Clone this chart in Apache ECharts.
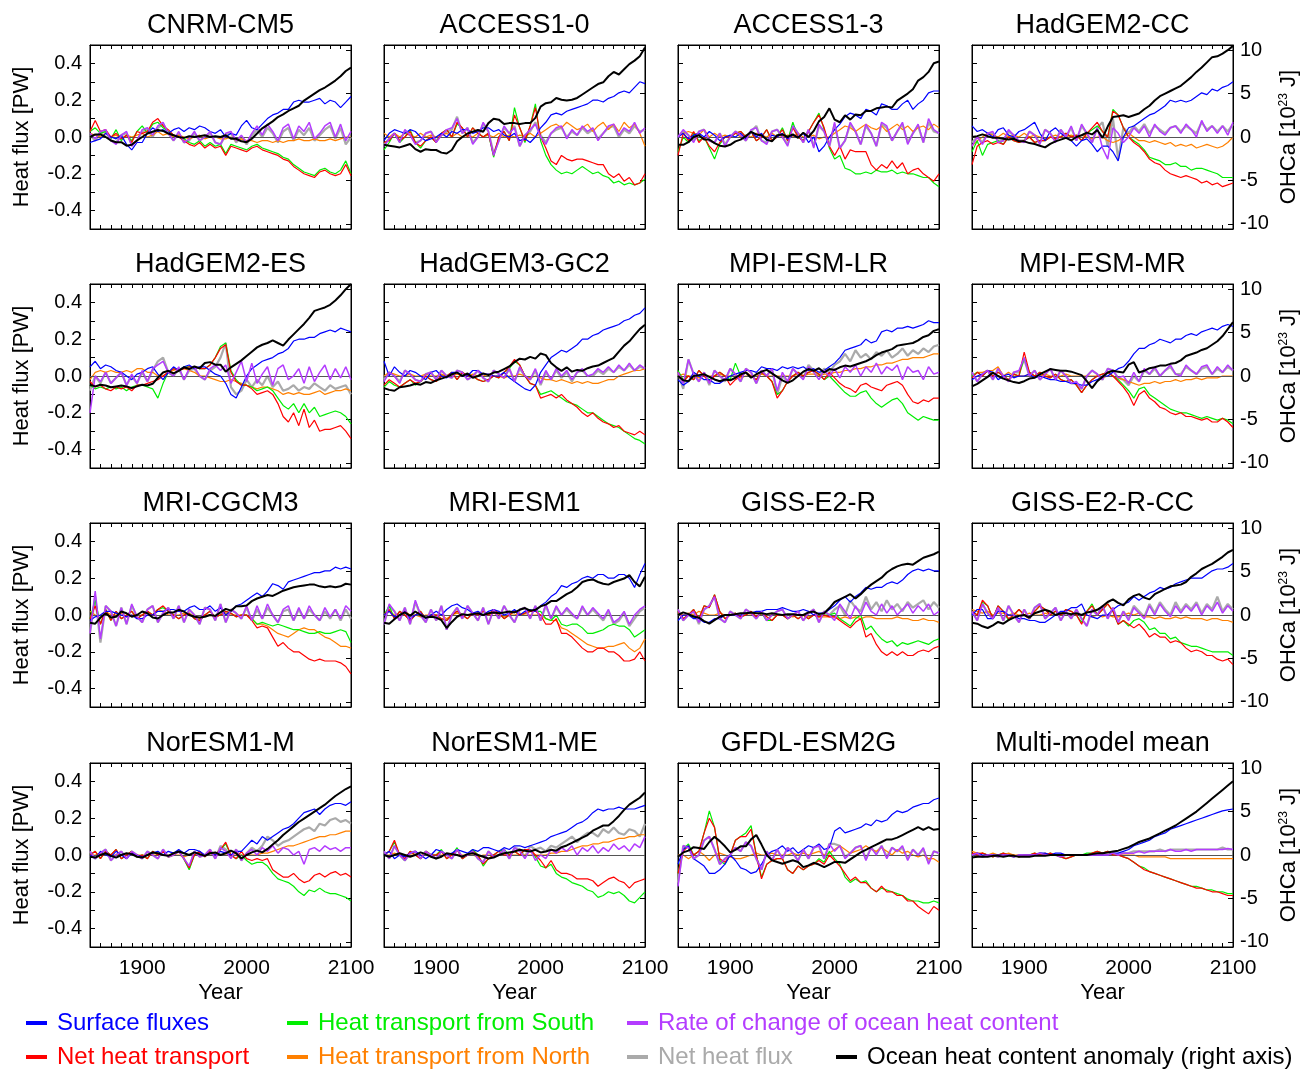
<!DOCTYPE html>
<html><head><meta charset="utf-8">
<script src="https://cdn.jsdelivr.net/npm/echarts@6/dist/echarts.min.js"></script>
<style>html,body{margin:0;padding:0;background:#fff}#c{width:1305px;height:1069px}</style>
</head><body><div id="c"></div>
<script>
const years = [1850,1855,1860,1865,1870,1875,1880,1885,1890,1895,1900,1905,1910,1915,1920,1925,1930,1935,1940,1945,1950,1955,1960,1965,1970,1975,1980,1985,1990,1995,2000,2005,2010,2015,2020,2025,2030,2035,2040,2045,2050,2055,2060,2065,2070,2075,2080,2085,2090,2095,2100];
const models = ['CNRM-CM5','ACCESS1-0','ACCESS1-3','HadGEM2-CC','HadGEM2-ES','HadGEM3-GC2','MPI-ESM-LR','MPI-ESM-MR','MRI-CGCM3','MRI-ESM1','GISS-E2-R','GISS-E2-R-CC','NorESM1-M','NorESM1-ME','GFDL-ESM2G','Multi-model mean'];

// Surface fluxes [PW]
const surfaceFluxes = [
[-0.03,-0.02,-0.01,0.02,0.0,-0.01,0.01,-0.04,-0.07,-0.03, -0.03,0.02,0.05,0.03,0.04,0.02,0.04,0.05,0.03,0.05, 0.04,0.06,0.05,0.03,0.02,0.04,0.0,0.02,0.01,0.06, 0.09,0.05,0.04,0.07,0.1,0.12,0.13,0.15,0.15,0.19, 0.2,0.19,0.19,0.2,0.21,0.18,0.2,0.19,0.16,0.19,0.22],
[-0.02,0.02,0.04,0.03,0.02,0.04,0.03,0.0,-0.02,-0.01, 0.0,0.02,0.0,0.03,0.02,0.04,0.04,0.02,0.03,0.05, 0.05,0.03,0.04,0.01,0.0,0.02,-0.02,-0.01,-0.03,0.0, 0.05,0.08,0.12,0.13,0.12,0.14,0.15,0.16,0.17,0.18, 0.2,0.2,0.19,0.21,0.22,0.24,0.25,0.24,0.27,0.3,0.29],
[0.0,0.02,-0.01,0.01,0.02,0.0,0.03,0.01,-0.02,0.0, 0.01,0.0,0.02,-0.01,0.03,0.0,0.02,-0.02,0.01,0.0, 0.02,-0.01,0.01,0.0,0.02,-0.03,0.0,-0.08,-0.05,0.0, 0.04,0.07,0.11,0.13,0.12,0.1,0.15,0.14,0.12,0.18, 0.17,0.15,0.15,0.18,0.2,0.15,0.18,0.2,0.24,0.25,0.25],
[0.06,0.03,0.04,0.02,0.0,0.04,0.05,0.01,0.0,0.03, 0.04,0.06,0.08,0.02,-0.02,0.03,0.05,0.02,0.0,-0.02, -0.05,-0.02,-0.01,-0.04,-0.08,-0.05,-0.05,-0.08,-0.13,0.0, 0.05,0.06,0.08,0.1,0.12,0.13,0.15,0.17,0.2,0.19, 0.2,0.19,0.2,0.22,0.24,0.23,0.26,0.25,0.27,0.28,0.3],
[0.05,0.08,0.04,0.06,0.05,0.03,0.02,0.0,-0.02,0.01, 0.02,0.04,0.05,0.01,-0.02,0.02,0.05,0.03,0.05,0.06, 0.04,0.05,0.05,0.03,0.01,0.0,-0.04,-0.1,-0.12,-0.06, 0.0,0.04,0.06,0.08,0.09,0.1,0.12,0.13,0.15,0.19, 0.2,0.2,0.21,0.21,0.23,0.24,0.25,0.24,0.26,0.25,0.24],
[0.08,0.0,0.05,0.02,0.0,0.03,0.02,0.0,-0.02,0.02, 0.03,0.0,-0.01,0.02,0.02,0.0,0.0,0.03,0.03,0.01, 0.01,0.0,0.0,0.02,-0.01,-0.03,-0.05,-0.07,-0.08,-0.05, 0.02,0.06,0.1,0.12,0.14,0.13,0.15,0.17,0.2,0.2, 0.22,0.23,0.25,0.26,0.27,0.28,0.3,0.31,0.33,0.34,0.37],
[-0.02,-0.05,-0.03,0.02,0.0,-0.02,-0.02,-0.04,-0.04,-0.02, 0.0,0.01,0.02,0.03,0.03,0.02,0.05,0.04,0.04,0.03, 0.05,0.04,0.05,0.04,0.05,0.03,0.04,0.02,0.03,0.05, 0.07,0.1,0.14,0.15,0.16,0.17,0.2,0.18,0.19,0.24, 0.25,0.24,0.26,0.26,0.27,0.26,0.27,0.28,0.3,0.29,0.29],
[-0.02,0.0,0.01,0.03,0.02,-0.02,0.0,0.01,-0.01,0.0, 0.0,0.01,-0.01,0.0,-0.01,-0.02,-0.02,-0.03,-0.03,-0.04, -0.04,-0.05,-0.05,-0.03,-0.02,0.0,0.0,0.02,0.04,0.05, 0.08,0.12,0.15,0.15,0.17,0.18,0.2,0.19,0.18,0.2, 0.2,0.22,0.23,0.22,0.24,0.25,0.26,0.25,0.27,0.28,0.27],
[-0.03,-0.01,0.0,0.02,0.02,0.01,0.0,-0.01,0.0,-0.02, -0.02,0.0,0.0,0.02,0.02,0.03,0.03,0.02,0.02,0.04, 0.05,0.03,0.03,0.05,0.02,0.04,0.0,0.02,0.05,0.06, 0.08,0.1,0.12,0.1,0.13,0.17,0.16,0.14,0.18,0.19, 0.2,0.21,0.22,0.23,0.23,0.24,0.24,0.26,0.25,0.26,0.25],
[0.0,0.02,-0.01,0.0,0.02,-0.02,0.0,0.01,-0.02,0.0, 0.02,0.0,0.03,0.05,0.06,0.04,0.03,0.01,0.02,0.0, 0.02,0.03,0.02,0.0,0.01,0.03,0.0,0.02,0.03,0.02, 0.05,0.07,0.1,0.12,0.16,0.15,0.17,0.18,0.2,0.21, 0.2,0.22,0.22,0.2,0.2,0.22,0.22,0.2,0.15,0.22,0.28],
[-0.03,0.0,0.0,-0.02,-0.02,-0.04,-0.04,-0.02,-0.02,0.0, 0.0,0.0,0.0,0.01,0.01,0.02,0.02,0.03,0.03,0.03, 0.04,0.03,0.02,0.02,0.03,0.02,0.0,0.01,0.01,0.03, 0.05,0.08,0.1,0.07,0.1,0.12,0.15,0.14,0.15,0.15, 0.17,0.18,0.17,0.19,0.22,0.24,0.25,0.24,0.25,0.24,0.24],
[0.0,0.03,0.03,-0.02,-0.02,0.02,0.02,0.0,0.0,-0.02, -0.02,-0.03,-0.03,-0.04,-0.04,-0.02,0.0,0.02,0.02,0.04, 0.04,0.06,0.0,-0.01,-0.02,0.0,0.0,0.03,0.05,0.06, 0.07,0.1,0.08,0.1,0.12,0.13,0.15,0.14,0.15,0.17, 0.18,0.19,0.2,0.2,0.2,0.22,0.24,0.25,0.25,0.26,0.28],
[0.0,-0.02,0.02,0.0,-0.01,0.02,0.0,-0.02,0.01,0.0, -0.01,0.0,0.01,0.02,0.0,0.02,0.01,0.03,0.01,0.03, 0.03,0.02,0.0,0.01,0.0,0.02,0.01,0.0,0.02,0.02, 0.05,0.08,0.06,0.1,0.08,0.1,0.12,0.14,0.15,0.17, 0.2,0.23,0.24,0.25,0.22,0.25,0.27,0.28,0.28,0.27,0.29],
[0.0,0.02,-0.02,0.0,-0.01,0.01,0.02,0.0,-0.02,0.0, 0.03,0.02,0.0,0.01,0.03,0.02,0.01,0.03,0.02,0.04, 0.04,0.03,0.02,0.04,0.03,0.05,0.05,0.04,0.05,0.06, 0.07,0.08,0.1,0.11,0.12,0.13,0.15,0.17,0.18,0.2, 0.23,0.25,0.24,0.25,0.25,0.26,0.25,0.25,0.25,0.26,0.27],
[-0.05,0.03,0.05,-0.02,-0.04,-0.06,-0.1,-0.1,-0.08,-0.05, 0.0,-0.03,-0.07,-0.08,-0.1,-0.09,-0.05,0.0,0.02,0.03, 0.05,0.02,0.04,0.01,0.03,0.05,0.04,0.06,0.03,0.04, 0.13,0.15,0.12,0.13,0.14,0.15,0.17,0.16,0.19,0.18, 0.19,0.22,0.24,0.23,0.24,0.26,0.27,0.28,0.28,0.3,0.31],
[0.0,0.01,0.0,0.0,0.0,0.0,0.0,0.0,-0.01,0.0, 0.0,0.0,0.0,0.01,0.01,0.0,0.01,0.01,0.0,0.0, 0.0,0.0,0.0,0.0,0.0,0.0,0.0,0.01,0.01,0.02, 0.03,0.05,0.06,0.07,0.08,0.1,0.11,0.12,0.14,0.15, 0.16,0.17,0.18,0.19,0.2,0.21,0.22,0.23,0.24,0.245,0.25]
];

// Net heat transport [PW]
const netTransport = [
[0.03,0.09,0.03,0.04,0.0,0.02,-0.01,0.01,-0.03,0.03, 0.02,0.03,0.08,0.1,0.06,0.04,0.01,0.0,-0.02,-0.04, -0.05,-0.03,-0.06,-0.04,-0.06,-0.05,-0.1,-0.05,-0.06,-0.07, -0.08,-0.06,-0.05,-0.07,-0.08,-0.09,-0.1,-0.12,-0.13,-0.16, -0.18,-0.2,-0.21,-0.22,-0.19,-0.18,-0.2,-0.21,-0.2,-0.15,-0.21],
[-0.03,-0.02,0.02,-0.02,0.0,0.03,-0.03,-0.05,-0.02,0.0, -0.03,0.02,0.04,0.0,0.08,0.05,0.0,0.05,0.02,0.0, 0.02,-0.1,0.0,0.03,-0.02,0.12,0.05,-0.02,0.06,0.16, 0.0,-0.06,-0.13,-0.15,-0.1,-0.12,-0.13,-0.12,-0.12,-0.13, -0.14,-0.15,-0.15,-0.2,-0.22,-0.2,-0.24,-0.22,-0.26,-0.25,-0.2],
[-0.1,0.02,-0.02,0.03,-0.03,0.0,-0.05,-0.08,-0.03,0.0, 0.0,0.02,0.03,0.0,0.03,-0.02,0.0,0.04,-0.02,0.0, 0.04,-0.02,0.05,0.0,-0.02,0.03,0.08,0.12,0.05,-0.05, -0.1,-0.05,-0.12,-0.07,-0.08,-0.08,-0.08,-0.15,-0.18,-0.15, -0.17,-0.13,-0.17,-0.14,-0.2,-0.18,-0.17,-0.2,-0.22,-0.24,-0.2],
[-0.15,-0.05,-0.03,-0.02,-0.04,-0.03,-0.04,0.0,-0.02,-0.03, -0.02,0.0,-0.03,-0.02,-0.02,0.0,-0.01,0.0,0.02,0.0, 0.01,-0.02,0.02,0.05,0.08,0.03,0.0,0.14,0.12,0.05, 0.0,-0.03,-0.05,-0.08,-0.12,-0.14,-0.15,-0.18,-0.2,-0.21, -0.22,-0.21,-0.22,-0.23,-0.25,-0.24,-0.26,-0.25,-0.27,-0.26,-0.25],
[-0.03,-0.06,-0.05,-0.07,-0.08,-0.06,-0.07,-0.06,-0.08,-0.05, -0.05,-0.04,-0.03,-0.02,0.0,0.02,0.04,0.03,0.04,0.05, 0.05,0.04,0.04,0.06,0.1,0.15,0.17,0.02,-0.03,-0.05, -0.05,-0.07,-0.1,-0.09,-0.08,-0.1,-0.15,-0.22,-0.25,-0.2, -0.27,-0.18,-0.28,-0.24,-0.3,-0.29,-0.29,-0.28,-0.27,-0.3,-0.34],
[-0.05,-0.02,-0.04,-0.06,-0.04,-0.02,-0.04,-0.03,0.0,-0.02, -0.03,0.0,0.0,0.02,-0.02,0.02,0.0,0.0,-0.02,-0.03, -0.02,0.0,-0.01,0.02,0.05,0.09,0.06,0.0,-0.04,-0.05, -0.12,-0.11,-0.1,-0.12,-0.1,-0.13,-0.15,-0.17,-0.2,-0.22, -0.2,-0.23,-0.25,-0.26,-0.28,-0.27,-0.3,-0.31,-0.32,-0.3,-0.32],
[0.02,-0.03,0.0,-0.02,0.03,0.0,-0.03,0.0,0.02,0.0, -0.05,-0.02,0.0,0.02,0.0,-0.02,0.02,0.0,-0.03,-0.12, -0.08,-0.03,0.0,0.02,0.0,0.02,0.03,0.01,-0.02,0.02, -0.01,-0.04,-0.06,-0.07,-0.09,-0.05,-0.04,-0.06,-0.07,-0.08, -0.05,-0.04,-0.03,-0.05,-0.1,-0.14,-0.15,-0.13,-0.14,-0.12,-0.12],
[-0.01,0.02,0.0,0.03,0.0,0.02,0.0,-0.02,0.01,0.0, 0.13,0.02,0.0,0.02,0.0,-0.01,0.01,-0.02,-0.03,-0.02, -0.05,-0.09,-0.05,-0.02,0.0,0.01,0.02,0.0,-0.03,-0.06, -0.1,-0.16,-0.1,-0.08,-0.12,-0.14,-0.17,-0.18,-0.2,-0.21, -0.2,-0.22,-0.22,-0.23,-0.24,-0.23,-0.25,-0.25,-0.23,-0.25,-0.28],
[-0.02,0.05,-0.05,0.03,-0.03,0.02,-0.02,0.0,0.02,-0.02, 0.0,0.02,0.0,0.03,0.05,0.02,0.0,-0.02,0.0,0.01, -0.02,-0.03,0.0,0.02,-0.01,0.0,0.02,0.01,-0.01,0.0, 0.0,-0.03,-0.07,-0.06,-0.07,-0.12,-0.17,-0.15,-0.18,-0.2, -0.2,-0.22,-0.24,-0.25,-0.24,-0.25,-0.25,-0.25,-0.26,-0.28,-0.32],
[0.0,0.03,-0.02,0.02,0.0,-0.03,0.0,0.02,-0.02,0.0, 0.0,-0.02,-0.03,0.0,0.02,0.0,-0.02,0.01,0.0,0.02, 0.0,0.03,0.01,-0.02,0.0,0.02,0.0,0.01,0.02,0.02, 0.0,-0.05,-0.05,-0.02,-0.1,-0.1,-0.12,-0.15,-0.18,-0.2, -0.2,-0.18,-0.18,-0.2,-0.2,-0.22,-0.25,-0.25,-0.24,-0.2,-0.25],
[0.02,-0.02,0.0,0.03,-0.02,0.05,0.04,0.11,0.02,-0.02, 0.0,0.01,-0.01,0.0,0.02,-0.01,0.01,-0.01,-0.03,0.0, 0.0,-0.02,0.0,-0.02,0.0,-0.02,0.0,-0.01,0.0,-0.01, -0.01,-0.03,-0.05,-0.07,-0.04,-0.02,-0.12,-0.1,-0.16,-0.2, -0.22,-0.2,-0.22,-0.2,-0.22,-0.22,-0.2,-0.19,-0.2,-0.18,-0.17],
[0.02,0.0,0.08,0.05,-0.02,0.05,0.02,-0.02,0.0,0.03, 0.0,-0.02,0.02,0.05,0.03,0.0,0.02,0.0,0.03,0.02, 0.0,-0.05,0.02,0.05,0.0,0.03,0.06,0.02,-0.05,-0.03, -0.05,-0.07,-0.05,-0.08,-0.12,-0.1,-0.12,-0.12,-0.15,-0.14, -0.15,-0.18,-0.2,-0.19,-0.2,-0.22,-0.22,-0.24,-0.25,-0.24,-0.27],
[0.0,0.02,-0.02,0.02,0.0,0.03,-0.02,0.0,0.02,-0.01, 0.0,-0.02,0.02,0.0,0.02,-0.01,0.0,0.02,-0.02,-0.07, 0.0,0.02,-0.01,0.02,0.0,0.03,0.07,0.0,-0.02,0.02, -0.02,-0.03,-0.02,-0.03,-0.02,-0.08,-0.1,-0.12,-0.12,-0.1, -0.13,-0.15,-0.14,-0.11,-0.1,-0.12,-0.1,-0.09,-0.11,-0.1,-0.12],
[0.0,0.02,0.08,0.0,-0.02,0.02,0.0,-0.02,0.02,0.0, 0.0,0.02,-0.02,0.0,0.03,-0.02,0.0,0.02,0.0,-0.05, -0.02,0.0,0.02,0.0,0.0,0.02,0.0,0.03,0.03,0.0, -0.03,-0.07,-0.03,-0.08,-0.1,-0.1,-0.11,-0.13,-0.13,-0.13, -0.14,-0.17,-0.15,-0.13,-0.12,-0.14,-0.15,-0.18,-0.15,-0.14,-0.13],
[-0.1,0.02,0.05,0.0,0.02,0.12,0.2,0.15,-0.02,-0.04, 0.0,0.08,0.1,0.1,0.14,0.0,-0.13,-0.05,-0.03,-0.02, -0.02,-0.08,-0.1,-0.06,-0.08,-0.06,-0.05,-0.03,-0.05,0.0, -0.03,-0.06,-0.1,-0.14,-0.12,-0.15,-0.15,-0.18,-0.2,-0.17, -0.2,-0.2,-0.22,-0.22,-0.25,-0.25,-0.28,-0.3,-0.32,-0.28,-0.3],
[0.01,0.0,0.01,0.0,-0.01,0.0,0.01,0.0,0.0,-0.01, 0.0,0.0,0.01,0.0,0.0,0.01,0.0,-0.01,-0.02,-0.01, 0.0,0.0,0.0,0.01,0.02,0.01,0.02,0.0,0.0,-0.01, -0.02,-0.04,-0.06,-0.08,-0.09,-0.1,-0.11,-0.12,-0.13,-0.14, -0.15,-0.16,-0.17,-0.18,-0.18,-0.19,-0.2,-0.2,-0.21,-0.22,-0.22]
];

// Heat transport from South [PW]
const fromSouth = [
[0.03,0.05,0.02,0.03,-0.01,0.04,-0.02,0.01,-0.02,0.03, 0.06,0.02,0.07,0.08,0.05,0.03,0.01,0.0,-0.01,-0.03, -0.04,-0.02,-0.05,-0.03,-0.05,-0.04,-0.09,-0.04,-0.05,-0.06, -0.07,-0.05,-0.04,-0.06,-0.07,-0.08,-0.09,-0.11,-0.12,-0.15, -0.17,-0.19,-0.2,-0.21,-0.18,-0.17,-0.19,-0.2,-0.18,-0.13,-0.2],
[-0.07,-0.03,0.02,-0.03,0.0,0.04,-0.03,-0.06,-0.02,0.0, -0.03,0.02,0.04,0.0,0.07,0.05,0.0,0.05,0.02,0.0, 0.02,-0.11,0.0,0.03,-0.02,0.16,0.05,-0.03,0.06,0.18, -0.02,-0.1,-0.15,-0.18,-0.2,-0.19,-0.2,-0.18,-0.16,-0.18, -0.2,-0.19,-0.21,-0.22,-0.25,-0.24,-0.26,-0.25,-0.26,-0.25,-0.23],
[-0.08,0.0,-0.03,0.02,-0.02,0.0,-0.06,-0.12,-0.04,0.0, 0.0,0.02,0.03,0.0,0.03,-0.02,0.0,0.04,-0.02,0.0, 0.05,-0.02,0.08,0.0,-0.02,0.03,0.08,0.13,0.04,-0.06, -0.12,-0.1,-0.17,-0.18,-0.2,-0.2,-0.19,-0.2,-0.18,-0.19, -0.19,-0.18,-0.2,-0.19,-0.2,-0.2,-0.21,-0.22,-0.22,-0.25,-0.27],
[-0.08,-0.02,-0.1,-0.04,-0.03,-0.02,-0.04,0.0,-0.02,-0.03, -0.02,0.0,-0.03,-0.02,-0.02,0.0,-0.01,0.0,0.02,0.0, 0.01,-0.02,0.02,0.04,0.06,0.03,0.0,0.15,0.12,0.05, 0.0,-0.02,-0.04,-0.07,-0.11,-0.12,-0.13,-0.15,-0.15,-0.14, -0.16,-0.16,-0.18,-0.17,-0.17,-0.18,-0.19,-0.2,-0.22,-0.22,-0.22],
[-0.05,-0.07,-0.06,-0.07,-0.06,-0.07,-0.06,-0.08,-0.06,-0.05, -0.05,-0.06,-0.07,-0.12,-0.04,0.02,0.04,0.03,0.05,0.05, 0.05,0.04,0.04,0.06,0.1,0.16,0.18,0.03,-0.02,-0.05, -0.05,-0.06,-0.08,-0.07,-0.06,-0.08,-0.12,-0.16,-0.18,-0.15, -0.2,-0.15,-0.2,-0.17,-0.22,-0.21,-0.2,-0.19,-0.2,-0.22,-0.26],
[-0.06,-0.03,-0.05,-0.06,-0.04,-0.02,-0.05,-0.03,0.0,-0.02, -0.03,0.0,0.0,0.02,-0.02,0.02,0.0,0.0,-0.02,-0.03, -0.02,0.0,-0.01,0.02,0.04,0.08,0.06,0.0,-0.04,-0.05, -0.1,-0.09,-0.08,-0.1,-0.12,-0.14,-0.15,-0.16,-0.18,-0.2, -0.2,-0.22,-0.24,-0.26,-0.27,-0.28,-0.3,-0.32,-0.34,-0.35,-0.37],
[0.03,-0.02,0.0,-0.02,0.03,0.0,-0.02,0.0,0.02,0.0, -0.02,0.07,0.0,0.02,0.0,-0.02,0.02,0.0,-0.03,-0.1, -0.08,-0.03,0.0,0.02,0.0,0.02,0.03,0.01,-0.02,0.0, -0.03,-0.06,-0.09,-0.11,-0.11,-0.09,-0.08,-0.12,-0.15,-0.17, -0.15,-0.13,-0.12,-0.15,-0.2,-0.22,-0.24,-0.22,-0.23,-0.24,-0.24],
[0.0,0.02,0.0,0.03,0.0,0.02,0.0,-0.02,0.01,0.0, 0.1,0.02,0.0,0.02,0.0,-0.01,0.01,-0.02,-0.03,-0.02, -0.05,-0.09,-0.05,-0.02,0.0,0.01,0.02,0.0,-0.02,-0.05, -0.08,-0.12,-0.07,-0.06,-0.1,-0.12,-0.14,-0.16,-0.18,-0.19, -0.2,-0.2,-0.21,-0.22,-0.23,-0.22,-0.23,-0.24,-0.23,-0.24,-0.26],
[-0.02,0.08,-0.05,0.03,-0.03,0.02,-0.02,0.0,0.02,-0.02, 0.0,0.02,0.0,0.03,0.04,0.02,0.0,-0.02,0.0,0.01, -0.02,-0.03,0.0,0.02,-0.01,0.0,0.02,0.01,-0.01,0.0, 0.0,-0.02,-0.05,-0.04,-0.05,-0.06,-0.05,-0.06,-0.07,-0.08, -0.08,-0.09,-0.1,-0.1,-0.09,-0.1,-0.1,-0.09,-0.08,-0.09,-0.15],
[0.0,0.05,-0.02,0.02,0.0,-0.03,0.0,0.02,-0.02,0.0, 0.0,-0.02,-0.03,0.0,0.02,0.0,-0.02,0.01,0.0,0.02, 0.0,0.03,0.01,-0.02,0.0,0.02,0.0,0.01,0.02,0.02, 0.02,-0.02,-0.03,0.0,-0.05,-0.06,-0.05,-0.05,-0.07,-0.1, -0.1,-0.09,-0.08,-0.06,-0.05,-0.06,-0.06,-0.08,-0.12,-0.1,-0.08],
[0.02,-0.02,0.0,0.03,-0.02,0.05,0.04,0.11,0.02,-0.02, 0.0,0.01,-0.01,0.0,0.02,-0.01,0.01,-0.03,-0.03,0.0, 0.0,-0.02,0.0,-0.02,0.0,-0.02,0.0,-0.01,0.0,0.0, 0.01,-0.02,-0.04,-0.06,-0.02,0.0,-0.08,-0.06,-0.1,-0.13, -0.15,-0.14,-0.17,-0.15,-0.16,-0.15,-0.14,-0.15,-0.16,-0.14,-0.13],
[0.02,0.0,0.07,0.05,-0.02,0.05,0.02,-0.03,0.0,0.03, 0.0,-0.02,0.02,0.05,0.03,0.0,0.02,0.0,0.03,0.02, 0.0,-0.04,0.02,0.06,0.0,0.03,0.06,0.02,-0.05,-0.03, -0.06,-0.03,-0.02,-0.04,-0.08,-0.07,-0.1,-0.1,-0.13,-0.12, -0.15,-0.16,-0.17,-0.17,-0.18,-0.19,-0.2,-0.2,-0.2,-0.2,-0.22],
[0.0,0.02,-0.02,0.02,0.0,0.03,-0.02,0.0,0.02,-0.01, 0.0,-0.02,0.02,0.0,0.02,-0.01,0.0,0.02,-0.02,-0.08, 0.0,0.02,-0.01,0.02,0.0,0.03,0.06,0.0,-0.02,0.0, -0.03,-0.05,-0.04,-0.04,-0.06,-0.1,-0.13,-0.14,-0.15,-0.17, -0.2,-0.22,-0.19,-0.2,-0.18,-0.2,-0.21,-0.21,-0.22,-0.23,-0.25],
[0.0,0.02,0.07,0.0,-0.03,0.02,0.0,-0.02,0.02,0.0, 0.0,0.03,-0.02,0.0,0.04,-0.02,0.0,0.03,0.0,-0.06, -0.02,0.0,0.02,0.03,0.0,0.02,0.0,0.03,0.03,-0.01, -0.06,-0.07,-0.05,-0.1,-0.12,-0.13,-0.15,-0.16,-0.17,-0.19, -0.2,-0.23,-0.22,-0.2,-0.21,-0.2,-0.22,-0.25,-0.26,-0.23,-0.2],
[-0.1,0.03,0.06,0.0,0.02,0.12,0.24,0.15,-0.03,-0.05, 0.0,0.08,0.1,0.12,0.16,0.0,-0.12,-0.05,-0.03,-0.02, -0.02,-0.08,-0.1,-0.06,-0.08,-0.06,-0.05,-0.02,-0.04,0.02, -0.02,-0.05,-0.12,-0.15,-0.13,-0.15,-0.14,-0.18,-0.2,-0.18, -0.19,-0.2,-0.21,-0.22,-0.24,-0.25,-0.25,-0.26,-0.26,-0.25,-0.26],
[0.0,-0.01,0.01,0.0,-0.01,0.0,0.01,0.0,0.0,-0.01, 0.0,0.0,0.01,0.0,0.0,0.01,0.0,-0.01,-0.02,-0.01, 0.0,0.0,0.01,0.01,0.02,0.01,0.02,0.0,0.0,-0.01, -0.02,-0.04,-0.06,-0.07,-0.09,-0.1,-0.11,-0.12,-0.13,-0.14, -0.15,-0.16,-0.17,-0.17,-0.18,-0.19,-0.19,-0.2,-0.2,-0.21,-0.21]
];

// Heat transport from North [PW]
const fromNorth = [
[0.02,0.01,0.0,0.02,0.0,0.01,-0.01,0.01,0.0,0.01, 0.02,0.0,0.01,0.03,0.01,0.02,0.0,0.01,0.0,-0.01, 0.0,0.01,-0.01,0.0,0.0,-0.01,-0.01,0.0,-0.02,-0.01, -0.02,-0.02,-0.03,-0.02,-0.02,-0.03,-0.02,-0.03,-0.02,-0.02, -0.01,-0.02,-0.02,-0.01,-0.02,-0.02,-0.01,-0.02,-0.01,0.0,0.0],
[0.02,0.0,0.02,0.0,0.02,0.01,0.0,0.02,0.0,0.01, 0.0,0.01,0.02,0.0,0.02,0.0,0.01,0.0,0.02,0.0, 0.01,0.0,0.02,0.0,0.01,0.0,0.01,0.0,0.02,0.0, 0.02,0.04,0.06,0.07,0.05,0.08,0.06,0.04,0.05,0.07, 0.03,0.06,0.08,0.04,0.07,0.03,0.08,0.05,0.07,0.02,-0.05],
[0.0,0.02,0.03,0.02,0.01,0.04,0.0,0.02,0.0,0.01, 0.0,0.02,0.0,0.01,0.0,0.02,0.01,0.0,0.02,0.0, 0.0,0.01,0.0,0.02,0.0,0.0,0.01,-0.01,0.0,0.0, 0.02,0.04,0.06,0.05,0.03,0.05,0.07,0.05,0.04,0.06, 0.03,0.05,0.07,0.04,0.06,0.03,0.05,0.06,0.04,0.07,0.05],
[-0.05,-0.02,0.0,0.02,0.01,0.0,0.02,0.0,0.01,0.0, 0.02,0.0,0.01,0.0,-0.01,0.0,0.01,0.0,0.0,0.01, 0.0,0.01,0.0,-0.01,0.0,0.0,-0.02,-0.03,-0.02,0.0, 0.02,0.0,-0.02,-0.02,-0.03,-0.02,-0.03,-0.04,-0.03,-0.05, -0.04,-0.05,-0.04,-0.06,-0.05,-0.04,-0.05,-0.06,-0.05,-0.03,0.0],
[-0.02,0.02,0.03,0.02,0.03,0.02,0.02,0.03,0.02,0.04, 0.04,0.02,0.02,0.0,0.0,0.02,0.03,0.04,0.04,0.03, 0.02,0.0,0.0,-0.01,-0.02,-0.03,-0.03,-0.02,-0.03,-0.04, -0.05,-0.06,-0.07,-0.06,-0.06,-0.07,-0.08,-0.1,-0.09,-0.1, -0.09,-0.1,-0.1,-0.09,-0.08,-0.1,-0.09,-0.08,-0.08,-0.07,-0.08],
[0.0,0.02,0.01,0.0,0.0,0.01,0.0,0.0,0.01,0.0, 0.0,0.01,0.0,0.0,0.01,0.0,0.0,0.01,0.0,0.0, 0.01,0.0,0.0,-0.01,0.0,0.0,0.01,0.0,-0.01,0.0, -0.01,-0.02,-0.02,-0.03,-0.02,-0.03,-0.04,-0.03,-0.04,-0.03, -0.04,-0.04,-0.03,-0.02,-0.02,0.0,0.01,0.02,0.03,0.03,0.04],
[0.0,0.01,0.0,0.0,-0.01,0.0,0.0,0.0,0.01,0.0, 0.0,0.0,-0.01,0.0,0.0,0.0,0.01,0.0,0.0,0.0, 0.0,0.0,0.0,0.01,0.0,0.01,0.01,0.0,0.01,0.01, 0.02,0.02,0.03,0.03,0.04,0.04,0.05,0.05,0.06,0.06, 0.07,0.07,0.08,0.09,0.09,0.1,0.1,0.1,0.11,0.12,0.12],
[0.0,0.02,0.02,0.03,0.03,0.05,0.0,0.02,0.0,0.0, 0.0,0.01,0.0,0.0,0.01,0.0,0.0,0.0,0.01,0.0, 0.0,0.0,0.0,0.0,0.0,-0.01,0.0,0.0,-0.01,-0.02, -0.03,-0.04,-0.05,-0.04,-0.04,-0.03,-0.04,-0.03,-0.03,-0.02, -0.03,-0.02,-0.02,-0.01,-0.02,-0.01,-0.01,-0.01,0.0,0.0,0.0],
[0.02,0.0,-0.02,0.02,0.0,0.0,0.01,-0.01,0.0,0.0, 0.0,0.02,0.0,0.03,0.02,0.0,0.0,0.0,0.01,0.0, 0.0,-0.02,0.0,0.0,-0.01,0.0,0.01,0.0,0.0,0.0, 0.0,-0.02,-0.05,-0.05,-0.06,-0.08,-0.1,-0.11,-0.12,-0.1, -0.08,-0.07,-0.08,-0.08,-0.1,-0.12,-0.13,-0.15,-0.17,-0.17,-0.18],
[0.0,0.02,0.0,0.0,0.02,0.0,0.0,-0.01,0.0,0.0, 0.0,0.0,-0.02,0.0,0.01,0.0,0.0,0.01,0.0,0.0, 0.0,0.01,0.0,-0.01,0.0,0.0,0.01,0.0,0.0,0.0, 0.0,-0.02,-0.03,-0.03,-0.07,-0.08,-0.1,-0.12,-0.14,-0.16, -0.17,-0.18,-0.18,-0.17,-0.17,-0.16,-0.15,-0.18,-0.2,-0.18,-0.13],
[0.01,0.0,0.01,0.0,0.02,0.01,0.0,0.0,0.01,0.0, 0.0,0.0,0.0,0.0,0.0,0.01,0.0,0.0,0.0,0.0, 0.0,0.0,-0.01,0.0,0.0,-0.01,0.0,-0.01,-0.01,-0.01, -0.01,-0.02,-0.01,-0.02,-0.01,-0.02,-0.01,-0.01,-0.02,-0.02, -0.02,-0.02,-0.01,-0.02,-0.02,-0.03,-0.03,-0.02,-0.03,-0.03,-0.04],
[0.03,0.02,0.01,0.02,0.0,0.01,0.01,0.0,0.01,0.0, 0.0,0.01,0.0,0.0,0.01,0.0,0.0,0.0,0.01,0.0, 0.0,0.0,0.0,-0.01,0.0,-0.01,0.0,-0.01,-0.01,0.0, 0.01,0.0,0.01,-0.01,-0.01,-0.02,-0.01,-0.02,-0.02,-0.01, -0.02,-0.01,-0.02,-0.02,-0.02,-0.03,-0.02,-0.02,-0.03,-0.03,-0.04],
[0.0,0.0,0.01,0.0,0.0,0.0,0.0,0.0,0.0,0.0, 0.0,0.0,0.0,0.0,0.0,0.0,0.0,0.0,-0.01,0.0, 0.0,0.0,0.0,0.0,0.0,0.0,0.0,0.0,0.0,0.0, 0.0,0.0,0.0,0.01,0.01,0.02,0.03,0.04,0.05,0.05, 0.06,0.07,0.08,0.09,0.1,0.1,0.11,0.11,0.12,0.13,0.13],
[0.0,0.0,0.01,0.0,0.0,0.0,0.0,0.0,0.0,0.0, 0.0,0.0,0.0,0.0,0.0,0.0,0.0,0.0,-0.01,0.0, 0.0,0.0,0.0,0.0,0.0,0.0,0.0,0.0,0.0,0.0, 0.0,0.0,0.01,0.01,0.02,0.02,0.03,0.04,0.05,0.05, 0.06,0.06,0.07,0.07,0.08,0.09,0.09,0.1,0.1,0.11,0.11],
[0.0,0.0,-0.02,0.0,0.02,0.0,-0.03,0.0,0.01,0.0, -0.01,-0.02,-0.02,-0.01,0.0,0.01,0.0,0.0,0.01,0.0, 0.0,0.0,0.01,0.0,0.01,0.0,0.01,0.02,0.0,0.01, 0.03,0.05,0.03,0.01,0.02,0.03,0.05,0.03,0.02,0.04, 0.02,0.0,0.03,0.01,0.02,0.0,-0.01,0.0,-0.02,-0.02,-0.04],
[0.02,0.01,0.01,0.0,0.01,0.0,0.0,0.01,0.0,0.0, 0.0,0.0,0.0,0.0,0.01,0.0,0.0,0.0,0.0,0.0, 0.0,0.0,0.0,0.0,0.0,0.0,0.0,0.0,0.0,0.0, 0.0,0.0,-0.01,-0.01,-0.01,-0.01,-0.01,-0.01,-0.02,-0.02, -0.02,-0.02,-0.02,-0.02,-0.02,-0.02,-0.02,-0.02,-0.02,-0.02,-0.02]
];

// Rate of change of ocean heat content [PW]
const rateOHC = [
[0.02,-0.01,0.03,0.04,-0.02,-0.04,0.01,0.03,-0.05,-0.02, 0.04,0.05,0.01,0.06,0.08,0.02,-0.02,0.03,-0.03,-0.01, 0.03,-0.02,0.0,0.03,-0.03,-0.04,0.02,0.03,-0.02,0.01, -0.03,0.02,0.06,0.01,0.07,0.03,-0.02,0.05,0.07,-0.01, 0.06,0.03,0.08,-0.01,0.02,0.06,0.08,0.0,0.07,-0.02,0.03],
[-0.05,-0.01,0.02,-0.03,0.04,0.01,-0.04,-0.02,0.02,0.03, -0.03,0.01,0.04,0.05,0.1,0.02,0.05,-0.04,0.0,0.08, 0.03,-0.1,-0.02,0.06,0.02,0.05,-0.05,0.01,0.04,0.07, 0.0,-0.04,0.02,0.05,0.06,-0.01,0.04,0.01,0.06,0.03, 0.05,-0.02,0.02,0.06,0.07,0.01,0.05,0.03,0.08,0.02,0.05],
[0.0,0.04,0.01,-0.03,0.03,0.04,-0.02,-0.03,0.02,-0.05, 0.0,0.03,0.01,-0.02,0.04,0.05,-0.02,-0.04,0.03,0.04, 0.0,-0.05,0.06,0.02,-0.03,0.04,-0.06,0.07,0.03,-0.05, 0.08,-0.06,-0.02,0.08,0.03,-0.04,0.07,0.02,-0.05,0.08, 0.06,-0.02,0.03,0.08,-0.04,0.02,0.07,-0.03,0.1,0.04,0.02],
[-0.05,0.0,-0.04,0.02,0.03,-0.03,-0.02,0.04,0.01,-0.02, -0.03,0.03,0.01,-0.04,0.04,0.02,-0.03,0.04,0.0,0.06, -0.02,0.07,0.02,-0.03,0.05,-0.06,-0.12,0.05,0.02,-0.03, 0.0,0.05,0.02,0.06,0.0,0.07,0.03,0.01,0.05,0.06, 0.02,0.07,0.04,0.0,0.09,0.03,0.06,0.02,0.06,0.01,0.08],
[-0.2,0.0,-0.03,0.02,-0.04,-0.01,0.02,-0.05,0.01,-0.04, 0.03,-0.03,0.04,0.06,0.08,0.02,0.0,0.05,-0.02,0.04, 0.05,0.0,-0.02,0.04,0.06,0.03,0.06,-0.04,0.02,0.08, -0.03,0.07,-0.04,0.01,0.05,-0.05,0.04,0.06,-0.02,0.0, 0.04,-0.04,0.05,-0.03,0.02,0.06,-0.02,0.04,-0.01,0.05,-0.02],
[-0.03,0.02,0.0,-0.04,0.03,0.01,-0.02,-0.03,0.01,0.02, -0.02,0.03,0.0,-0.01,0.03,0.02,-0.02,0.0,0.03,-0.01, -0.03,0.03,0.01,-0.01,0.04,-0.03,0.05,0.0,-0.02,0.04, -0.04,0.03,-0.02,0.04,0.0,0.03,-0.02,0.02,0.04,0.0, 0.01,0.04,0.02,0.05,0.02,0.06,0.03,0.07,0.03,0.06,0.04],
[0.02,-0.04,0.09,0.01,-0.03,0.02,-0.04,0.03,0.0,-0.02, 0.04,0.01,-0.03,0.04,0.02,-0.04,0.03,0.0,0.04,-0.08, 0.02,-0.03,0.04,0.01,-0.02,0.05,0.02,-0.02,0.03,0.0, 0.04,-0.01,0.05,0.02,0.06,0.0,0.05,0.02,0.07,0.01, 0.05,0.03,0.06,-0.02,0.05,0.02,0.03,-0.02,0.05,0.01,0.02],
[0.02,-0.03,0.01,0.03,-0.02,0.04,0.0,-0.03,0.02,0.03, 0.1,0.0,0.03,-0.02,0.01,0.04,-0.02,0.03,0.0,-0.04, -0.03,-0.07,0.0,0.03,0.01,-0.02,0.04,0.03,-0.01,0.0, -0.04,0.02,-0.03,0.04,0.01,0.05,0.0,0.03,0.06,0.01, 0.0,0.06,0.03,0.01,0.05,0.06,0.01,0.05,0.02,0.06,0.03],
[-0.1,0.13,-0.13,0.05,0.02,-0.06,0.04,-0.05,0.06,-0.01, -0.04,0.03,0.05,-0.04,0.01,0.04,-0.02,0.05,-0.04,0.03, 0.0,-0.05,0.04,0.03,-0.03,0.06,-0.04,0.03,0.01,-0.02, 0.05,-0.03,0.05,-0.02,0.06,0.0,-0.04,0.03,0.05,-0.03, 0.04,-0.02,0.05,0.0,-0.03,0.04,-0.01,0.03,-0.02,0.05,0.02],
[-0.05,0.06,0.02,-0.03,0.04,-0.05,0.08,0.0,-0.04,0.03, -0.03,0.05,-0.08,0.0,0.04,-0.02,0.05,0.01,-0.03,0.04, -0.05,0.03,-0.02,0.05,0.0,-0.04,0.03,0.04,-0.02,0.05, -0.03,0.06,-0.02,0.05,0.0,0.04,0.01,-0.02,0.05,0.0, 0.04,0.01,-0.02,0.03,-0.04,-0.02,0.02,-0.05,0.0,0.03,0.05],
[0.03,-0.03,0.0,0.02,-0.04,0.03,0.05,0.1,-0.02,-0.04, 0.02,0.0,-0.02,0.03,0.01,-0.02,0.02,-0.03,0.0,0.02, 0.03,-0.02,0.0,0.02,-0.03,0.01,0.03,-0.04,0.02,0.0, -0.03,0.06,0.02,-0.02,0.05,0.0,0.07,0.02,0.0,0.06, 0.01,0.05,0.0,0.03,0.06,0.01,0.05,0.02,0.06,0.0,0.02],
[0.02,-0.03,0.06,0.01,-0.02,0.04,-0.03,0.05,0.0,-0.04, 0.03,-0.02,0.04,0.06,-0.02,0.01,0.04,-0.03,0.02,-0.02, 0.03,-0.02,-0.06,0.03,0.0,0.05,-0.02,0.04,-0.04,0.02, -0.03,0.04,0.01,-0.02,0.05,0.0,0.06,0.02,-0.01,0.05, 0.01,0.05,0.02,0.06,0.0,0.05,0.02,0.07,0.01,0.05,0.02],
[0.02,-0.02,0.01,0.03,-0.03,0.0,0.02,-0.02,0.02,0.0, -0.02,0.02,0.0,-0.02,0.03,-0.01,0.0,0.02,-0.02,-0.06, 0.02,-0.01,0.0,0.03,-0.02,0.04,0.02,-0.02,0.03,-0.03, 0.01,0.03,0.0,0.04,0.02,0.05,0.01,0.04,0.03,0.0, 0.02,-0.05,0.03,0.04,0.02,0.05,0.03,0.04,0.02,0.04,0.04],
[0.02,-0.02,0.05,0.0,-0.03,0.01,0.02,-0.02,0.02,0.0, -0.02,0.02,0.0,-0.02,0.03,-0.01,0.0,0.02,-0.02,-0.04, 0.02,-0.01,0.0,0.03,-0.02,0.04,0.02,-0.02,0.03,-0.03, 0.0,-0.02,0.03,0.01,0.04,0.02,0.05,0.0,0.04,0.02, 0.05,0.01,0.04,0.02,0.06,0.03,0.05,0.02,0.06,0.04,0.1],
[-0.17,0.05,0.04,-0.02,0.0,0.08,0.1,0.03,-0.05,-0.02, 0.0,0.04,0.02,0.07,0.05,-0.02,-0.08,0.02,-0.03,0.03, -0.02,0.04,0.01,-0.03,0.03,-0.02,0.04,0.05,-0.02,0.06, 0.02,0.05,-0.02,0.01,0.04,0.05,-0.03,0.04,0.0,0.05, -0.02,0.04,0.02,0.05,-0.03,0.03,0.0,0.04,-0.05,0.02,0.01],
[0.0,0.01,-0.01,0.0,0.0,-0.01,0.0,0.0,-0.01,0.0, 0.0,0.0,0.0,0.01,0.0,0.0,0.0,-0.01,0.0,0.0, 0.0,0.0,0.0,0.0,0.0,0.0,0.0,0.01,0.0,0.01, 0.01,0.01,0.02,0.01,0.02,0.02,0.02,0.02,0.03,0.02, 0.02,0.03,0.02,0.03,0.03,0.03,0.03,0.03,0.03,0.035,0.03]
];

// Net heat flux [PW]
const netHeatFlux = [
[0.01,-0.02,0.02,0.03,-0.02,-0.03,0.01,0.02,-0.04,-0.02, 0.03,0.04,0.0,0.05,0.07,0.02,-0.02,0.02,-0.03,-0.02, 0.02,-0.02,0.0,0.02,-0.03,-0.04,0.01,0.02,-0.03,0.0, -0.04,0.01,0.04,0.0,0.05,0.02,-0.03,0.03,0.05,-0.02, 0.04,0.01,0.05,-0.02,0.01,0.04,0.06,-0.01,0.05,-0.04,0.0],
[-0.04,-0.01,0.02,-0.02,0.03,0.01,-0.03,-0.02,0.02,0.03, -0.02,0.01,0.03,0.04,0.11,0.02,0.05,-0.03,0.0,0.07, 0.03,-0.09,-0.02,0.05,0.02,0.06,-0.05,0.01,0.03,0.08, 0.01,-0.03,0.02,0.04,0.05,0.0,0.03,0.01,0.05,0.02, 0.04,-0.01,0.02,0.05,0.06,0.0,0.04,0.02,0.06,0.03,0.04],
[0.0,0.03,0.01,-0.02,0.03,0.04,-0.02,-0.03,0.02,-0.04, 0.0,0.03,0.01,-0.02,0.03,0.06,-0.02,-0.03,0.03,0.04, 0.0,-0.04,0.06,0.02,-0.03,0.04,-0.05,0.06,0.03,-0.05, 0.07,-0.06,-0.02,0.07,0.03,-0.04,0.06,0.02,-0.05,0.07, 0.05,-0.02,0.03,0.07,-0.03,0.02,0.06,-0.03,0.08,0.03,0.02],
[-0.03,0.0,-0.03,0.02,0.02,-0.02,-0.02,0.03,0.01,-0.02, -0.02,0.03,0.01,-0.03,0.04,0.02,-0.02,0.04,0.0,0.05, -0.02,0.06,0.02,-0.03,0.05,0.08,-0.05,0.1,-0.12,0.05, 0.02,0.06,0.03,0.07,0.02,0.06,0.04,0.02,0.05,0.06, 0.03,0.06,0.04,0.02,0.08,0.04,0.06,0.03,0.06,0.03,0.07],
[-0.08,0.0,-0.04,0.02,-0.04,-0.01,0.02,-0.05,0.0,-0.04, 0.02,-0.03,0.03,0.08,0.1,0.02,0.0,0.04,-0.02,0.03, 0.04,0.0,-0.02,0.03,0.05,0.1,0.18,-0.06,-0.1,-0.08, -0.02,-0.06,-0.02,-0.05,0.0,-0.06,-0.03,-0.08,-0.07,-0.05, -0.08,-0.06,-0.07,-0.04,-0.06,-0.08,-0.05,-0.07,-0.06,-0.05,-0.1],
[-0.02,0.02,0.0,-0.03,0.03,0.01,-0.02,-0.03,0.01,0.02, -0.02,0.03,0.0,-0.01,0.03,0.02,-0.02,0.0,0.03,-0.01, -0.03,0.03,0.01,-0.01,0.04,-0.03,0.04,0.0,-0.02,0.03, -0.05,0.02,-0.02,0.03,-0.01,0.02,-0.03,0.02,0.03,0.0, 0.0,0.03,0.01,0.04,0.02,0.05,0.03,0.06,0.03,0.05,0.04],
[0.02,-0.07,0.09,0.01,-0.03,0.02,-0.05,0.03,0.0,-0.03, 0.04,0.01,-0.03,0.04,0.02,-0.04,0.03,0.0,0.04,-0.1, 0.0,-0.03,0.04,0.01,-0.01,0.06,0.03,0.0,0.04,0.02, 0.06,0.08,0.12,0.08,0.14,0.1,0.12,0.09,0.13,0.11, 0.14,0.1,0.12,0.15,0.11,0.14,0.12,0.15,0.13,0.16,0.17],
[0.02,-0.03,0.01,0.03,-0.02,0.04,0.0,-0.03,0.02,0.02, 0.09,0.0,0.03,-0.02,0.01,0.04,-0.02,0.03,0.0,-0.04, -0.04,-0.07,0.0,0.03,0.01,-0.02,0.04,0.03,-0.01,-0.02, -0.05,0.0,-0.03,0.03,0.01,0.04,0.0,0.03,0.05,0.01, 0.01,0.05,0.03,0.01,0.04,0.05,0.01,0.04,0.02,0.05,0.03],
[-0.1,0.1,-0.15,0.05,0.02,-0.06,0.04,-0.05,0.05,-0.01, -0.04,0.03,0.05,-0.04,0.01,0.04,-0.02,0.05,-0.04,0.03, 0.0,-0.05,0.04,0.03,-0.03,0.06,-0.04,0.03,0.01,-0.02, 0.04,-0.03,0.03,-0.02,0.04,0.0,-0.04,0.02,0.03,-0.03, 0.03,-0.02,0.03,0.0,-0.03,0.02,-0.02,0.03,-0.03,0.03,-0.02],
[-0.05,0.05,0.02,-0.03,0.04,-0.05,0.07,0.0,-0.04,0.03, -0.03,0.05,-0.08,0.0,0.04,-0.02,0.05,0.01,-0.03,0.04, -0.05,0.03,-0.02,0.05,0.0,-0.04,0.03,0.04,-0.02,0.05, -0.03,0.05,-0.02,0.04,0.0,0.03,0.0,-0.02,0.04,0.0, 0.03,0.0,-0.03,0.02,-0.05,-0.03,0.01,-0.06,-0.02,0.02,0.04],
[0.03,-0.03,0.0,0.02,-0.05,0.03,0.05,0.1,-0.02,-0.04, 0.02,0.0,-0.02,0.03,0.01,-0.02,0.02,-0.03,0.0,0.02, 0.03,-0.02,0.0,0.02,-0.03,0.01,0.03,-0.04,0.02,0.0, 0.03,0.05,0.0,0.08,0.04,0.02,0.1,0.03,0.07,0.02, 0.08,0.03,0.06,0.02,0.07,0.04,0.06,0.08,0.03,0.07,0.04],
[0.02,-0.03,0.06,0.01,-0.02,0.04,-0.03,0.05,0.0,-0.04, 0.03,-0.02,0.04,0.06,-0.02,0.01,0.04,-0.03,0.02,-0.02, 0.03,-0.02,-0.06,0.03,0.0,0.05,-0.02,0.04,-0.04,0.02, -0.02,0.05,0.02,-0.01,0.06,0.01,0.07,0.03,0.0,0.07, 0.02,0.06,0.03,0.07,0.01,0.06,0.03,0.1,0.02,0.06,0.03],
[0.02,-0.02,0.01,0.03,-0.03,0.0,0.02,-0.02,0.02,0.0, -0.02,0.02,0.0,-0.02,0.03,-0.01,0.0,0.02,-0.02,-0.07, 0.02,-0.01,0.0,0.03,-0.02,0.05,0.03,-0.01,0.03,-0.03, 0.01,0.04,0.02,0.05,0.1,0.08,0.05,0.07,0.08,0.1, 0.12,0.14,0.15,0.13,0.17,0.16,0.19,0.2,0.18,0.19,0.17],
[0.02,-0.02,0.05,0.0,-0.03,0.01,0.02,-0.02,0.02,0.0, -0.02,0.02,0.0,-0.02,0.03,-0.01,0.0,0.02,-0.02,-0.04, 0.02,-0.01,0.0,0.03,-0.02,0.04,0.03,-0.01,0.05,0.03, 0.04,0.02,0.05,0.04,0.06,0.08,0.1,0.07,0.1,0.12, 0.12,0.1,0.14,0.12,0.15,0.12,0.11,0.14,0.13,0.1,0.17],
[-0.15,0.05,0.04,-0.02,0.0,0.08,0.1,0.03,-0.05,-0.02, 0.0,0.04,0.02,0.07,0.05,-0.02,-0.08,0.02,-0.03,0.03, -0.02,0.04,0.01,-0.03,0.03,-0.02,0.04,0.05,-0.02,0.06, 0.06,0.05,-0.01,0.01,0.04,0.05,-0.02,0.04,0.01,0.05, -0.01,0.04,0.02,0.04,-0.02,0.03,0.0,0.03,-0.04,0.02,0.01],
[0.0,0.01,-0.01,0.0,0.0,-0.01,0.0,0.0,-0.01,0.0, 0.0,0.0,0.0,0.01,0.0,0.0,0.0,-0.01,0.0,0.0, 0.0,0.0,0.0,0.0,0.0,0.0,0.0,0.01,0.0,0.01, 0.01,0.02,0.02,0.02,0.02,0.02,0.03,0.02,0.03,0.03, 0.03,0.03,0.03,0.03,0.03,0.03,0.03,0.03,0.04,0.03,0.03]
];

// Ocean heat content anomaly [10^23 J] (right axis)
const ohca = [
[0.0,0.3,0.3,0.0,-0.4,-0.6,-0.6,-1.0,-0.9,-0.4, 0.0,0.4,0.6,0.8,0.7,0.4,0.2,0.0,-0.1,0.1, 0.0,0.1,0.2,0.0,0.1,0.0,0.2,-0.2,-0.2,-0.5, -0.6,-0.2,0.4,1.0,1.4,1.8,2.3,2.6,3.0,3.3, 3.6,4.2,4.6,5.0,5.4,5.7,6.1,6.5,7.0,7.6,8.0],
[-0.9,-1.0,-1.1,-1.2,-1.0,-0.8,-1.4,-1.7,-1.4,-1.5, -1.5,-1.8,-1.9,-1.5,-0.5,0.0,0.4,0.6,0.8,0.6, 1.6,2.1,2.0,1.5,1.6,1.6,1.5,1.6,1.6,2.2, 3.5,3.9,4.0,4.5,4.3,4.2,4.3,4.5,4.9,5.3, 5.7,6.1,6.3,7.0,7.5,7.2,7.8,8.4,8.8,9.3,10.3],
[-0.9,-0.9,-0.6,0.0,0.2,-0.3,-0.3,-0.7,-1.0,-1.1, -0.9,-0.5,-0.3,0.1,0.6,0.3,0.2,-0.3,-0.5,0.2, 0.3,0.0,0.3,-0.1,0.5,0.0,0.7,1.8,2.3,3.3, 2.0,1.7,2.5,2.0,2.6,2.5,3.0,3.0,3.3,3.4, 3.5,3.4,4.2,4.6,5.0,5.5,6.5,6.9,7.5,8.5,8.7],
[0.0,0.1,0.3,0.1,-0.1,-0.1,-0.2,-0.3,-0.2,-0.5, -0.5,-0.7,-0.8,-1.0,-1.2,-0.8,-0.5,-0.3,-0.1,-0.4, 0.0,0.2,0.5,0.3,0.8,-0.1,1.2,2.3,2.4,2.5, 2.3,2.5,2.7,3.2,3.6,4.2,4.7,5.0,5.3,5.6, 5.9,6.4,6.9,7.5,8.0,8.6,9.2,9.3,9.6,10.0,10.5],
[-1.0,-1.2,-1.0,-1.1,-1.3,-1.2,-1.1,-1.2,-1.4,-1.2, -1.0,-1.1,-0.9,-0.2,0.4,0.6,0.3,0.6,1.0,0.8, 1.1,0.9,1.5,1.6,1.3,1.3,0.5,1.0,1.4,1.8, 2.3,2.8,3.3,3.6,3.8,4.1,3.8,3.5,4.2,4.8, 5.4,6.0,6.7,7.5,7.7,7.9,8.2,8.7,9.3,10.0,10.6],
[-1.4,-1.6,-1.7,-1.3,-1.2,-1.1,-0.9,-1.0,-0.7,-0.8, -0.5,-0.3,-0.1,0.2,0.4,0.0,0.3,-0.2,0.0,0.3, 0.1,0.4,0.5,0.8,1.1,1.6,2.0,1.9,2.2,2.0, 2.6,2.4,1.5,1.0,0.6,1.0,0.5,0.7,0.6,0.9, 1.1,1.2,1.5,1.8,2.1,2.8,3.5,4.0,4.7,5.4,5.9],
[0.0,-0.5,-0.6,0.0,0.1,0.2,-0.1,-0.4,-0.6,-0.4, -0.5,-0.2,0.2,0.4,-0.2,0.2,0.5,0.7,0.3,-0.1, -0.5,-0.8,-0.5,0.0,0.5,0.8,0.6,0.9,0.4,0.8, 0.7,1.0,1.2,1.1,1.3,1.5,1.7,2.0,2.4,2.7, 2.9,3.1,3.5,3.6,3.7,3.8,4.1,4.5,4.7,5.2,5.4],
[-1.2,-0.9,-0.5,-0.1,0.4,0.0,-0.3,-0.5,-0.7,-0.8, -0.6,-0.3,-0.2,0.2,0.5,0.8,0.7,0.6,0.6,0.5, 0.3,0.1,-0.6,-1.4,-0.6,-0.1,0.4,0.6,0.5,0.4, 1.3,1.6,0.4,0.6,0.9,1.0,1.2,1.2,1.4,1.5, 1.8,2.3,2.5,2.7,3.0,3.2,3.6,4.0,4.6,5.4,6.2],
[-0.9,-1.0,-0.3,0.2,-0.3,-0.2,0.4,0.2,-0.2,0.0, 0.4,0.2,-0.3,-0.4,0.0,0.3,0.3,0.6,0.4,0.0, -0.2,-0.3,-0.2,0.0,-0.1,0.3,0.7,0.5,1.0,1.0, 1.1,1.6,1.9,2.1,2.3,2.2,2.5,2.8,3.0,3.2, 3.3,3.4,3.5,3.5,3.3,3.2,3.3,3.2,3.3,3.6,3.5],
[-0.9,-1.0,-0.5,0.0,0.3,-0.1,0.4,0.0,-0.3,-0.2, -0.3,-0.6,-1.5,-0.8,-0.2,0.1,0.0,0.1,0.2,0.0, 0.2,0.3,0.2,0.3,0.4,0.3,0.6,0.8,0.5,0.6, 1.0,1.2,1.6,1.6,2.0,2.4,2.7,3.2,3.8,4.0, 4.1,3.8,3.6,3.5,3.8,4.0,4.2,4.6,3.8,3.3,4.4],
[0.0,0.3,0.1,-0.2,-0.3,-0.7,-1.0,-0.6,-0.2,0.0, 0.0,0.1,0.2,0.2,0.3,0.2,0.2,0.1,0.2,0.1, 0.0,0.1,0.1,0.0,0.0,0.3,0.4,0.1,0.2,0.8, 1.5,1.8,2.1,2.4,1.9,2.4,3.0,3.5,3.9,4.3, 4.9,5.3,5.6,5.8,5.9,5.8,6.2,6.6,6.8,7.0,7.3],
[-0.9,-1.0,-1.3,-1.5,-1.2,-0.8,-1.0,-0.6,-0.3,-0.1, 0.0,-0.3,0.2,0.4,0.6,0.4,0.0,0.2,0.2,0.1, 0.2,0.0,0.3,0.4,0.6,1.0,1.5,1.8,1.4,1.1, 1.8,2.2,2.4,2.0,1.8,2.4,2.7,3.0,3.3,3.4, 3.5,3.8,4.4,4.8,5.3,5.6,5.9,6.3,6.7,7.2,7.5],
[-0.2,-0.3,0.0,0.2,-0.1,-0.3,0.0,0.2,0.1,-0.2, -0.3,0.0,0.3,0.2,0.0,-0.1,0.2,0.4,0.2,0.0, 0.3,0.1,-0.1,0.2,0.3,0.0,0.2,0.5,0.2,-0.4, 0.0,0.3,0.5,0.3,0.7,1.2,1.7,2.3,2.8,3.3, 3.8,4.2,4.6,5.0,5.4,5.8,6.3,6.8,7.2,7.6,7.9],
[0.0,-0.2,0.0,0.2,0.0,-0.2,0.0,0.3,0.1,-0.2, -0.4,-0.2,0.2,0.1,0.0,-0.2,0.1,0.2,0.0,-0.2, -0.4,-0.3,0.0,0.2,0.3,0.4,0.6,0.5,0.4,0.6, 0.3,0.4,0.6,0.5,0.9,1.1,1.4,1.7,2.0,2.3, 2.8,3.1,3.4,3.4,3.9,4.5,5.2,5.8,6.2,6.6,7.2],
[-0.2,0.3,0.5,0.9,0.8,0.7,1.5,2.1,1.6,1.0, 0.3,0.6,1.0,1.0,1.8,2.3,1.2,0.0,-0.6,-0.8, -1.0,-0.8,-0.6,-0.8,-1.4,-1.2,-0.9,-1.1,-1.4,-1.1, -0.8,-0.8,-0.9,-0.5,-0.1,0.3,0.6,0.9,1.2,1.5, 1.8,1.8,2.0,2.3,2.6,2.9,3.2,2.9,3.2,2.9,3.0],
[-0.3,-0.2,-0.2,-0.2,-0.1,-0.1,-0.2,-0.1,-0.1,-0.2, -0.2,-0.2,-0.1,-0.1,-0.1,0.0,0.0,0.0,0.0,0.0, 0.0,0.0,0.0,0.1,0.2,0.2,0.3,0.4,0.5,0.7, 0.9,1.2,1.5,1.7,1.9,2.2,2.5,2.8,3.1,3.4, 3.8,4.2,4.6,5.0,5.5,6.0,6.5,7.0,7.5,8.0,8.5]
];

const leftLabels = [-0.4,-0.2,0,0.2,0.4];
const leftTickVals = [-0.4,-0.3,-0.2,-0.1,0,0.1,0.2,0.3,0.4];
const rightLabels = [-10,-5,0,5,10];
const yearLabels = [1900,2000,2100];

const FONT = '"Liberation Sans", Arial, Helvetica, sans-serif';
const colLeft = [90,384,678,972];
const rowTop = [45,284,523,763];
const W = 261, H = 184;

const seriesDefs = [
  {name:'Net heat flux', data: netHeatFlux, color:'#aaaaaa', width:2.2, right:false},
  {name:'Heat transport from North', data: fromNorth, color:'#ff8000', width:1.2, right:false},
  {name:'Heat transport from South', data: fromSouth, color:'#00ee00', width:1.2, right:false},
  {name:'Net heat transport', data: netTransport, color:'#ff0000', width:1.2, right:false},
  {name:'Surface fluxes', data: surfaceFluxes, color:'#0000ff', width:1.2, right:false},
  {name:'Rate of change of ocean heat content', data: rateOHC, color:'#b43cff', width:1.5, right:false},
  {name:'Ocean heat content anomaly (right axis)', data: ohca, color:'#000000', width:2, right:true}
];

const grids=[], xAxes=[], yAxes=[], series=[], titles=[];
models.forEach((m,i)=>{
  const r = Math.floor(i/4), c = i%4;
  grids.push({left: colLeft[c], top: rowTop[r], width: W, height: H, show:true, borderColor:'#000', borderWidth:1, backgroundColor:'transparent', containLabel:false});
  titles.push({text:m, left: colLeft[c]+W/2, top: rowTop[r]-33, textAlign:'center', padding:0,
    textStyle:{fontSize:27, fontWeight:'normal', fontFamily:FONT, color:'#000'}});
  const lastRow = r===3;
  xAxes.push({gridIndex:i, type:'value', min:1850, max:2100, interval:10, position:'bottom',
    axisLine:{show:true, onZero:false, lineStyle:{color:'#000', width:1}},
    axisTick:{show:true, inside:true, length:4, lineStyle:{color:'#000'}},
    axisLabel:{show:lastRow, customValues: yearLabels, formatter:(v)=>String(v), margin:11, fontSize:21, fontFamily:FONT, color:'#000'},
    splitLine:{show:false},
    name: lastRow ? 'Year' : '', nameLocation:'middle', nameGap:35,
    nameTextStyle:{fontSize:22, fontFamily:FONT, color:'#000'}});
  xAxes.push({gridIndex:i, type:'value', min:1850, max:2100, interval:10, position:'top',
    axisLine:{show:true, onZero:false, lineStyle:{color:'#000', width:1}},
    axisTick:{show:true, inside:true, length:4, lineStyle:{color:'#000'}},
    axisLabel:{show:false}, splitLine:{show:false}});
  yAxes.push({gridIndex:i, type:'value', min:-0.5, max:0.5, position:'left',
    axisLine:{show:true, onZero:false, lineStyle:{color:'#000', width:1}},
    axisTick:{show:true, inside:true, length:5, customValues:leftTickVals, lineStyle:{color:'#000'}},
    axisLabel:{show:c===0, customValues:leftLabels, formatter:(v)=>v.toFixed(1), margin:8, fontSize:20, fontFamily:FONT, color:'#000'},
    splitLine:{show:false},
    name: c===0 ? 'Heat flux [PW]' : '', nameLocation:'middle', nameRotate:90, nameGap:57,
    nameTextStyle:{fontSize:22, fontFamily:FONT, color:'#000'}});
  yAxes.push({gridIndex:i, type:'value', min:-10.6, max:10.6, position:'right',
    axisLine:{show:true, onZero:false, lineStyle:{color:'#000', width:1}},
    axisTick:{show:true, inside:true, length:5, customValues:rightLabels, lineStyle:{color:'#000'}},
    axisLabel:{show:c===3, customValues:rightLabels, margin:7, fontSize:20, fontFamily:FONT, color:'#000'},
    splitLine:{show:false},
    name: c===3 ? 'OHCa [10{sup|23} J]' : '', nameLocation:'middle', nameRotate:90, nameGap:45,
    nameTextStyle:{fontSize:22, fontFamily:FONT, color:'#000',
      rich:{sup:{fontSize:12, fontFamily:FONT, color:'#000', verticalAlign:'top', padding:[0,0,10,0]}}}});
  seriesDefs.forEach((d,k)=>{
    const s = {type:'line', name:d.name, xAxisIndex:2*i, yAxisIndex: d.right ? 2*i+1 : 2*i,
      data: years.map((y,j)=>[y, d.data[i][j]]), showSymbol:false, symbol:'none', silent:true,
      lineStyle:{color:d.color, width:d.width}, itemStyle:{color:d.color}, z: 2+k, animation:false};
    if (k===0) s.markLine = {silent:true, symbol:'none', label:{show:false}, animation:false,
      lineStyle:{color:'#555', width:1, type:'solid'}, data:[{yAxis:0}]};
    series.push(s);
  });
});

const legendDefs = [
  {name:'Surface fluxes', color:'#0000ff', text:'#0000ff', left:26, top:1011},
  {name:'Heat transport from South', color:'#00ee00', text:'#00ee00', left:287, top:1011},
  {name:'Rate of change of ocean heat content', color:'#b43cff', text:'#b43cff', left:627, top:1011},
  {name:'Net heat transport', color:'#ff0000', text:'#ff0000', left:26, top:1045},
  {name:'Heat transport from North', color:'#ff8000', text:'#ff8000', left:287, top:1045},
  {name:'Net heat flux', color:'#aaaaaa', text:'#aaaaaa', left:627, top:1045},
  {name:'Ocean heat content anomaly (right axis)', color:'#000000', text:'#000000', left:836, top:1045}
];
const legends = legendDefs.map(l=>({
  data:[{name:l.name, itemStyle:{color:l.color}}], left:l.left, top:l.top, padding:0,
  icon:'rect', itemWidth:21, itemHeight:4, itemGap:0, selectedMode:false,
  textStyle:{fontSize:24, fontFamily:FONT, color:l.text, padding:[0,0,0,5]}
}));

const chart = echarts.init(document.getElementById('c'), null, {renderer:'canvas'});
chart.setOption({
  animation:false, backgroundColor:'#fff',
  title: titles, grid: grids, xAxis: xAxes, yAxis: yAxes, series: series, legend: legends
});
</script></body></html>
